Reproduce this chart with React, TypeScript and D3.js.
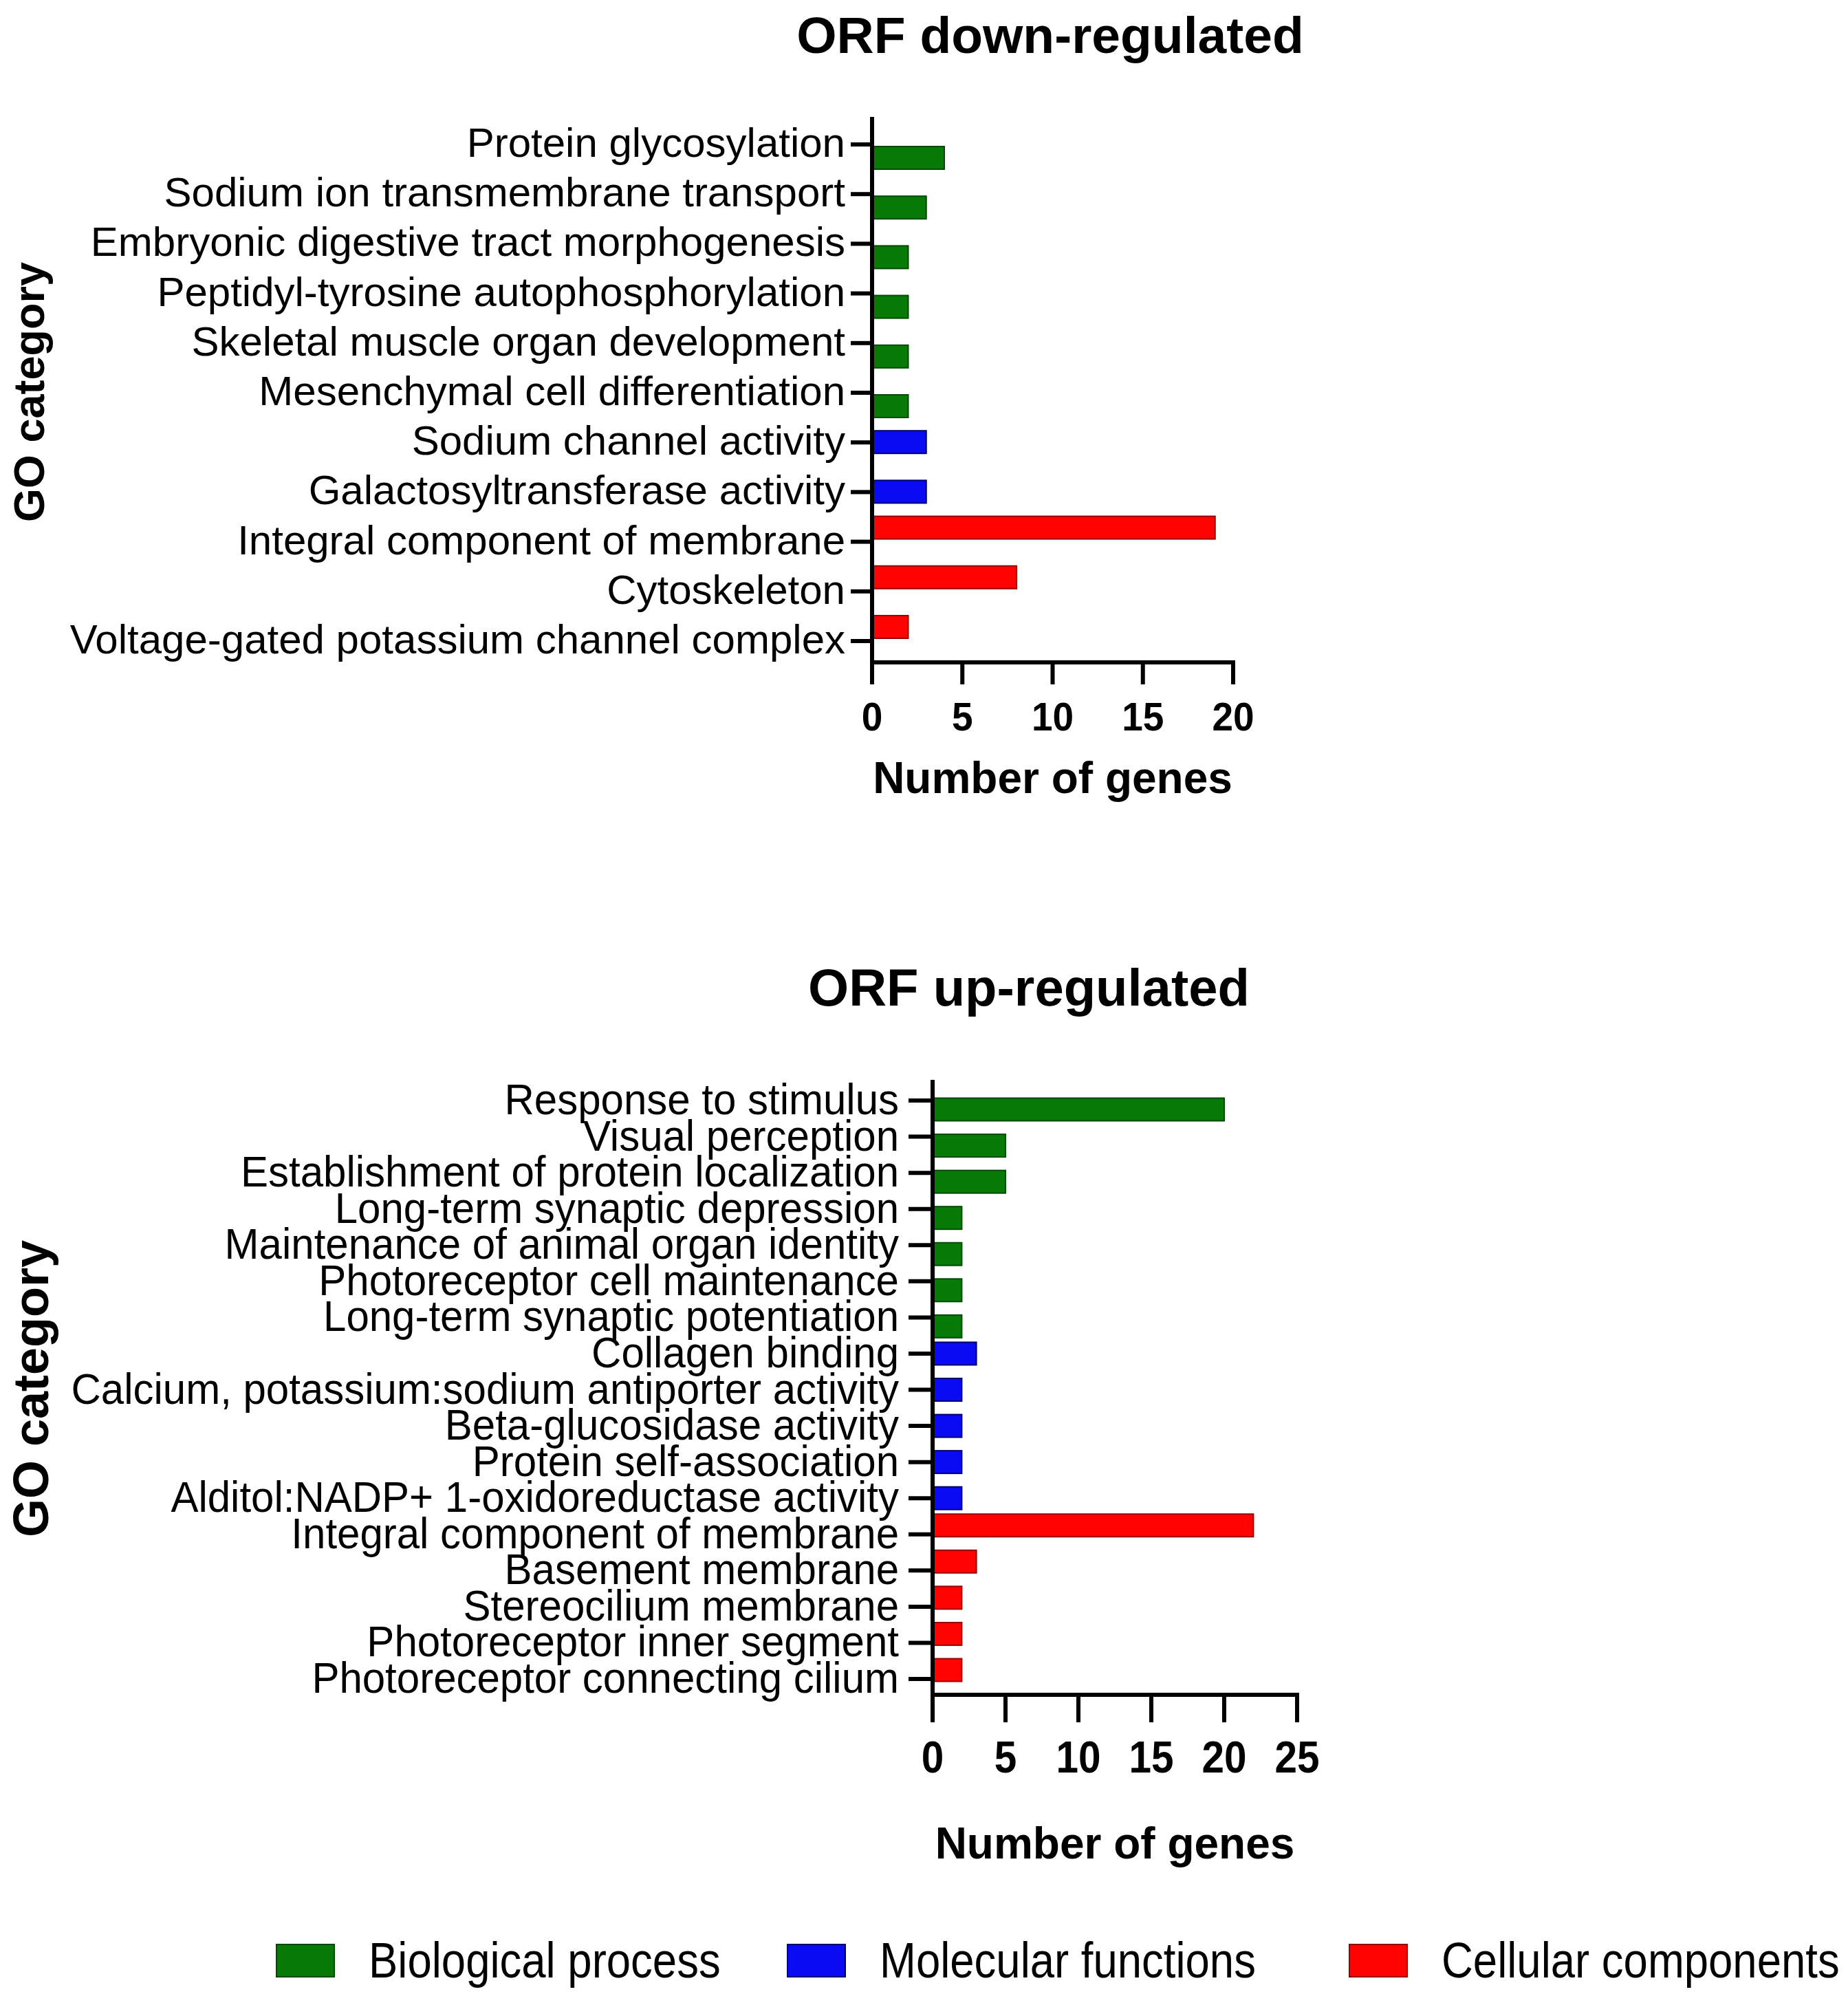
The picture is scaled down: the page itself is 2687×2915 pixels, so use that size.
import React from "react";
import * as d3 from "d3";

// ---------- data ----------
const downCategories = [
  "Protein glycosylation",
  "Sodium ion transmembrane transport",
  "Embryonic digestive tract morphogenesis",
  "Peptidyl-tyrosine autophosphorylation",
  "Skeletal muscle organ development",
  "Mesenchymal cell differentiation",
  "Sodium channel activity",
  "Galactosyltransferase activity",
  "Integral component of membrane",
  "Cytoskeleton",
  "Voltage-gated potassium channel complex",
];
const downValues = [4, 3, 2, 2, 2, 2, 3, 3, 19, 8, 2];
const downGroups = ["BP", "BP", "BP", "BP", "BP", "BP", "MF", "MF", "CC", "CC", "CC"];
const downTicks = [0, 5, 10, 15, 20];

const upCategories = [
  "Response to stimulus",
  "Visual perception",
  "Establishment of protein localization",
  "Long-term synaptic depression",
  "Maintenance of animal organ identity",
  "Photoreceptor cell maintenance",
  "Long-term synaptic potentiation",
  "Collagen binding",
  "Calcium, potassium:sodium antiporter activity",
  "Beta-glucosidase activity",
  "Protein self-association",
  "Alditol:NADP+ 1-oxidoreductase activity",
  "Integral component of membrane",
  "Basement membrane",
  "Stereocilium membrane",
  "Photoreceptor inner segment",
  "Photoreceptor connecting cilium",
];
const upValues = [20, 5, 5, 2, 2, 2, 2, 3, 2, 2, 2, 2, 22, 3, 2, 2, 2];
const upGroups = ["BP", "BP", "BP", "BP", "BP", "BP", "BP", "MF", "MF", "MF", "MF", "MF", "CC", "CC", "CC", "CC", "CC"];
const upTicks = [0, 5, 10, 15, 20, 25];

const groupKeys = ["BP", "MF", "CC"];
const groupNames = ["Biological process", "Molecular functions", "Cellular components"];
const groupFill = ["#077A07", "#0B0BF3", "#FF0303"];
const groupStroke = ["#034A03", "#000070", "#9A0000"];

const FONT = "'Liberation Sans', Arial, Helvetica, sans-serif";

type Panel = {
  title: string;
  cats: string[];
  vals: number[];
  groups: string[];
  ticks: number[];
  L: any;
};

const panels: Panel[] = [
  {
    title: "ORF down-regulated",
    cats: downCategories,
    vals: downValues,
    groups: downGroups,
    ticks: downTicks,
    L: {
      titleX: 1527, titleY: 77, titleSize: 75,
      yFirst: 210, yLast: 932, axisTop: 170, axisY: 963,
      x0: 1268, x1: 1793,
      ytickLen: 31, xtickLen: 32,
      labelSize: 60, labelSy: 1.0, labelGap: 8, labelDy: 18,
      tickLabelY: 1062, tickSize: 55, tickSy: 1.05,
      xTitleY: 1153, xTitleSize: 64,
      goX: 64, goY: 570, goSize: 63,
      barH: 33, offset: [19.5, -20.5],
    },
  },
  {
    title: "ORF up-regulated",
    cats: upCategories,
    vals: upValues,
    groups: upGroups,
    ticks: upTicks,
    L: {
      titleX: 1496, titleY: 1462, titleSize: 76,
      yFirst: 1600, yLast: 2441, axisTop: 1570, axisY: 2464,
      x0: 1356, x1: 1886,
      ytickLen: 35, xtickLen: 40,
      labelSize: 60, labelSy: 1.06, labelGap: 14, labelDy: 20,
      tickLabelY: 2577, tickSize: 58.5, tickSy: 1.1,
      xTitleY: 2702, xTitleSize: 64,
      goX: 70, goY: 2019, goSize: 72,
      barH: 33, offset: [13, -13],
    },
  },
];

const AXIS_W = 6;

function ChartPanel({ p }: { p: Panel }) {
  const L = p.L;
  const maxTick = p.ticks[p.ticks.length - 1];
  const x = d3.scaleLinear().domain([0, maxTick]).range([L.x0, L.x1]);
  const y = d3.scalePoint<string>().domain(p.cats).range([L.yFirst, L.yLast]);
  const off = d3.scalePoint<string>().domain(groupKeys).range(L.offset);
  const color = d3.scaleOrdinal<string, string>().domain(groupKeys).range(groupFill);
  const stroke = d3.scaleOrdinal<string, string>().domain(groupKeys).range(groupStroke);

  return (
    <g>
      <text
        x={L.titleX}
        y={L.titleY}
        textAnchor="middle"
        fontFamily={FONT}
        fontWeight="bold"
        fontSize={L.titleSize}
      >
        {p.title}
      </text>

      {/* bars */}
      {p.cats.map((c, i) => {
        const cy = (y(c) as number) + (off(p.groups[i]) as number);
        return (
          <rect
            key={"b" + i}
            x={x(0)}
            y={cy - L.barH / 2}
            width={x(p.vals[i]) - x(0)}
            height={L.barH}
            fill={color(p.groups[i])}
            stroke={stroke(p.groups[i])}
            strokeWidth={2}
          />
        );
      })}

      {/* y axis */}
      <line x1={x(0)} x2={x(0)} y1={L.axisTop} y2={L.axisY + AXIS_W / 2} stroke="#000" strokeWidth={AXIS_W} />
      {p.cats.map((c, i) => (
        <g key={"yt" + i}>
          <line
            x1={x(0) - L.ytickLen}
            x2={x(0)}
            y1={y(c)}
            y2={y(c)}
            stroke="#000"
            strokeWidth={AXIS_W}
          />
          <text
            transform={`translate(${x(0) - L.ytickLen - L.labelGap},${(y(c) as number) + L.labelDy}) scale(1,${L.labelSy})`}
            textAnchor="end"
            fontFamily={FONT}
            fontSize={L.labelSize}
            fill="#000"
          >
            {c}
          </text>
        </g>
      ))}

      {/* x axis */}
      <line x1={x(0) - AXIS_W / 2} x2={x(maxTick) + AXIS_W / 2} y1={L.axisY} y2={L.axisY} stroke="#000" strokeWidth={AXIS_W} />
      {p.ticks.map((t) => (
        <g key={"xt" + t}>
          <line x1={x(t)} x2={x(t)} y1={L.axisY} y2={L.axisY + L.xtickLen} stroke="#000" strokeWidth={AXIS_W} />
          <text
            transform={`translate(${x(t)},${L.tickLabelY}) scale(1,${L.tickSy})`}
            textAnchor="middle"
            fontFamily={FONT}
            fontWeight="bold"
            fontSize={L.tickSize}
          >
            {t}
          </text>
        </g>
      ))}
      <text
        x={(x(0) + x(maxTick)) / 2}
        y={L.xTitleY}
        textAnchor="middle"
        fontFamily={FONT}
        fontWeight="bold"
        fontSize={L.xTitleSize}
      >
        Number of genes
      </text>
      <text
        transform={`translate(${L.goX},${L.goY}) rotate(-90)`}
        textAnchor="middle"
        fontFamily={FONT}
        fontWeight="bold"
        fontSize={L.goSize}
      >
        GO category
      </text>
    </g>
  );
}

const legendLayout = { xs: [402, 1145, 1962], rectY: 2827, rectW: 84, rectH: 47, textDx: 134, textY: 2875, size: 63.5, sy: 1.15 };

export default function App() {
  return (
    <svg
      width={2687}
      height={2915}
      viewBox="0 0 2687 2915"
      style={{ position: "absolute", left: 0, top: 0, background: "#fff" }}
    >
      <rect x={0} y={0} width={2687} height={2915} fill="#fff" />
      {panels.map((p, i) => (
        <ChartPanel key={i} p={p} />
      ))}
      {groupKeys.map((g, i) => (
        <g key={"lg" + g}>
          <rect
            x={legendLayout.xs[i]}
            y={legendLayout.rectY}
            width={legendLayout.rectW}
            height={legendLayout.rectH}
            fill={groupFill[i]}
            stroke={groupStroke[i]}
            strokeWidth={2}
          />
          <text
            transform={`translate(${legendLayout.xs[i] + legendLayout.textDx},${legendLayout.textY}) scale(1,${legendLayout.sy})`}
            fontFamily={FONT}
            fontSize={legendLayout.size}
          >
            {groupNames[i]}
          </text>
        </g>
      ))}
    </svg>
  );
}
